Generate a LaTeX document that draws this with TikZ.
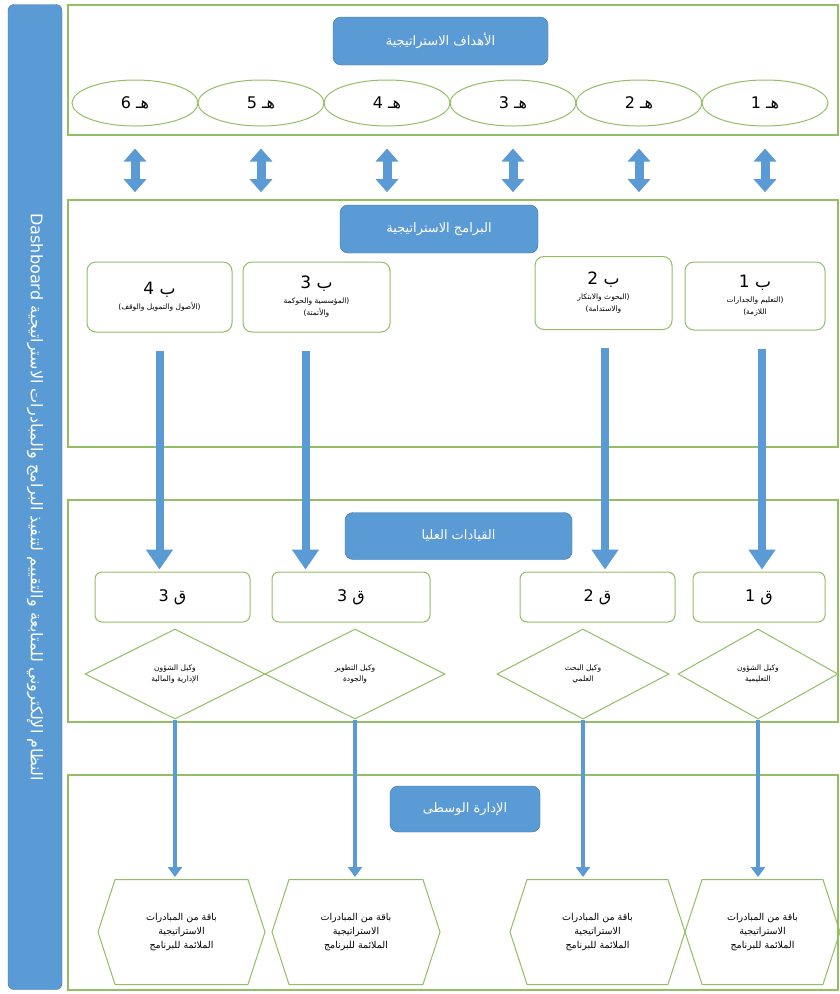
\documentclass[tikz,border=0pt]{standalone}
\usepackage{fontspec}
\newfontfamily\arabicfont[Script=Arabic]{DejaVu Sans}
\TeXXeTstate=1
\usetikzlibrary{shapes, shapes.geometric, shapes.symbols, arrows.meta, calc}
\definecolor{boxblue}{RGB}{91,155,213}
\definecolor{edgeblue}{RGB}{65,113,156}
\definecolor{framegreen}{RGB}{146,190,100}
\newcommand{\ar}[1]{{\arabicfont\beginR #1\endR}}
\newcommand{\sm}[1]{{\fontsize{7.5}{9}\selectfont\arabicfont\beginR #1\endR}}

\begin{document}
\begin{tikzpicture}[x=1pt, y=-1pt,
    fr/.style={rectangle, draw=framegreen, line width=1.6pt, fill=white, minimum width=770pt},
    tt/.style={rectangle, rounded corners=8pt, draw=edgeblue, fill=boxblue, text=white, font=\fontsize{13}{15}\selectfont},
    gl/.style={ellipse, draw=framegreen, line width=1pt, minimum width=126pt, minimum height=46pt, font=\fontsize{16}{17}\selectfont},
    pb/.style={rectangle, rounded corners=9pt, draw=framegreen, line width=1pt, align=center, font=\fontsize{17}{17}\selectfont},
    ld/.style={rectangle, rounded corners=7pt, draw=framegreen, line width=1pt, minimum height=50pt, font=\fontsize{16}{17}\selectfont},
    dm/.style={diamond, aspect=2, draw=framegreen, line width=1pt, minimum height=90pt, inner sep=0pt, align=center, font=\fontsize{7.5}{11}\selectfont},
    hx/.style={signal, signal to=east and west, signal pointer angle=144, draw=framegreen, line width=1pt, minimum height=105pt, align=center, font=\fontsize{9.5}{14}\selectfont}]
    \useasboundingbox (0,0) rectangle (840,994);

    % side bar
    \draw (35,497) node[rectangle, rotate=-90, rounded corners=6pt, draw=edgeblue, fill=boxblue, text=white,
        minimum width=985pt, minimum height=54pt, font=\fontsize{16}{18}\selectfont](dash)
        {\ar{النظام الإلكتروني للمتابعة والتقييم لتنفيذ البرامج والمبادرات الاستراتيجية \beginL Dashboard\endL}};

    % frames
    \draw (453,70)    node[fr, minimum height=130pt](f1){};
    \draw (453,323.5) node[fr, minimum height=247pt](f2){};
    \draw (453,611)   node[fr, minimum height=222pt](f3){};
    \draw (453,882.5) node[fr, minimum height=215pt](f4){};

    % titles
    \draw (440.5,41)  node[tt, minimum width=215pt, minimum height=48pt](t1){\ar{الأهداف الاستراتيجية}};
    \draw (439,229)   node[tt, minimum width=198pt, minimum height=48pt](t2){\ar{البرامج الاستراتيجية}};
    \draw (458.5,536) node[tt, minimum width=227pt, minimum height=47pt](t3){\ar{القيادات العليا}};
    \draw (465,809)   node[tt, minimum width=150pt, minimum height=46pt](t4){\ar{الإدارة الوسطى}};

    % goals
    \draw (765,103) node[gl](h1){\ar{هـ 1}};
    \draw (639,103) node[gl](h2){\ar{هـ 2}};
    \draw (513,103) node[gl](h3){\ar{هـ 3}};
    \draw (387,103) node[gl](h4){\ar{هـ 4}};
    \draw (261,103) node[gl](h5){\ar{هـ 5}};
    \draw (135,103) node[gl](h6){\ar{هـ 6}};

    % programmes
    \draw (755,296)   node[pb, minimum width=140pt, minimum height=68pt](b1){\ar{ب 1}\\[-2pt] \sm{(التعليم والجدارات}\\[-5pt] \sm{اللازمة)}};
    \draw (603.5,293) node[pb, minimum width=137pt, minimum height=73pt](b2){\ar{ب 2}\\[-2pt] \sm{(البحوث والابتكار}\\[-5pt] \sm{والاستدامة)}};
    \draw (316.5,297) node[pb, minimum width=147pt, minimum height=70pt](b3){\ar{ب 3}\\[-2pt] \sm{(المؤسسية والحوكمة}\\[-5pt] \sm{والأتمتة)}};
    \draw (159.5,297) node[pb, minimum width=145pt, minimum height=70pt](b4){\ar{ب 4}\\[-2pt] \sm{(الأصول والتمويل والوقف)}};

    % leaders
    \draw (759,597)   node[ld, minimum width=132pt](q1){\ar{ق 1}};
    \draw (597.5,597) node[ld, minimum width=155pt](q2){\ar{ق 2}};
    \draw (351,597)   node[ld, minimum width=158pt](q3){\ar{ق 3}};
    \draw (172.5,597) node[ld, minimum width=155pt](q4){\ar{ق 3}};

    \draw (758,674) node[dm, minimum width=160pt](d1){\ar{وكيل الشؤون}\\ \ar{التعليمية}};
    \draw (583,674) node[dm, minimum width=172pt](d2){\ar{وكيل البحث}\\ \ar{العلمي}};
    \draw (355,674) node[dm, minimum width=180pt](d3){\ar{وكيل التطوير}\\ \ar{والجودة}};
    \draw (175,674) node[dm, minimum width=180pt](d4){\ar{وكيل الشؤون}\\ \ar{الإدارية والمالية}};

    % initiatives
    \draw (762.5,932) node[hx, minimum width=155pt](p1){\ar{باقة من المبادرات}\\ \ar{الاستراتيجية}\\ \ar{الملائمة للبرنامج}};
    \draw (597.5,932) node[hx, minimum width=175pt](p2){\ar{باقة من المبادرات}\\ \ar{الاستراتيجية}\\ \ar{الملائمة للبرنامج}};
    \draw (356,932)   node[hx, minimum width=168pt](p3){\ar{باقة من المبادرات}\\ \ar{الاستراتيجية}\\ \ar{الملائمة للبرنامج}};
    \draw (181.5,932) node[hx, minimum width=167pt](p4){\ar{باقة من المبادرات}\\ \ar{الاستراتيجية}\\ \ar{الملائمة للبرنامج}};

    \begin{scope}[line width=9pt, boxblue, {Triangle[width=22pt,length=13pt]}-{Triangle[width=22pt,length=13pt]}, shorten <=22pt, shorten >=7pt]
        \path (h1.south) edge (h1.south |- f2.north);
        \path (h2.south) edge (h2.south |- f2.north);
        \path (h3.south) edge (h3.south |- f2.north);
        \path (h4.south) edge (h4.south |- f2.north);
        \path (h5.south) edge (h5.south |- f2.north);
        \path (h6.south) edge (h6.south |- f2.north);
    \end{scope}

    \begin{scope}[line width=8pt, boxblue, -{Triangle[width=26pt,length=20pt]}, shorten <=18pt, shorten >=2pt]
        \path ([xshift=7pt]b1.south)    edge ([xshift=7pt]b1.south |- q1.north);
        \path ([xshift=1.5pt]b2.south)  edge ([xshift=1.5pt]b2.south |- q2.north);
        \path ([xshift=-11pt]b3.south)  edge ([xshift=-11pt]b3.south |- q3.north);
        \path (b4.south)                edge (b4.south |- q4.north);
    \end{scope}

    \begin{scope}[line width=4pt, boxblue, -{Triangle[width=14pt,length=10pt]}, shorten >=2pt]
        \path (d1.south) edge (d1.south |- p1.north);
        \path (d2.south) edge (d2.south |- p2.north);
        \path (d3.south) edge (d3.south |- p3.north);
        \path (d4.south) edge (d4.south |- p4.north);
    \end{scope}
\end{tikzpicture}
\end{document}
